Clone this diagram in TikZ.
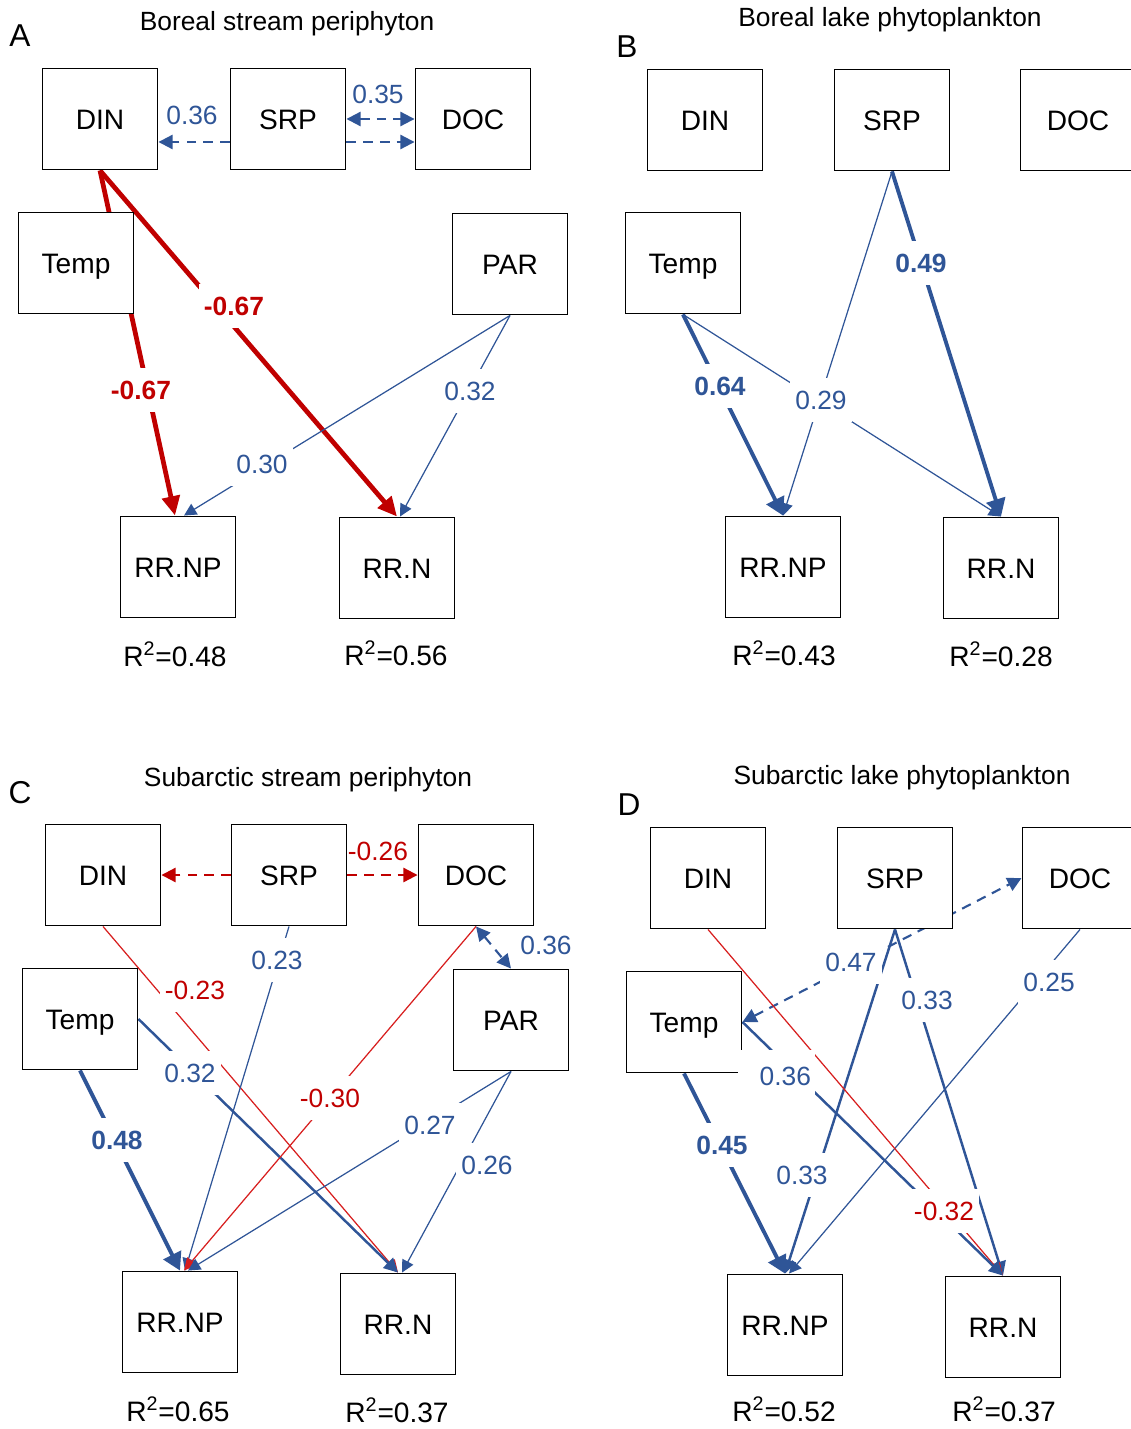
\documentclass[tikz,border=0pt]{standalone}
\usepackage{fontspec}
\setmainfont{Liberation Sans}
\usetikzlibrary{arrows.meta,calc}
\definecolor{sblue}{RGB}{47,85,151}
\definecolor{sred}{RGB}{192,0,0}
\definecolor{tred}{RGB}{215,30,30}
\pgfdeclarelayer{bg}
\pgfsetlayers{bg,main}
\begin{document}
\begin{tikzpicture}[x=0.02cm,y=-0.02cm,
  bx/.style={draw,line width=1.1pt,fill=white,minimum width=2.3cm,minimum height=2.02cm,inner sep=0pt,text height=11.5pt,text depth=0pt,font=\fontsize{16}{19}\selectfont},
  ttl/.style={text height=10.8pt,text depth=0pt,font=\fontsize{15}{18}\selectfont},
  pnl/.style={text height=12.9pt,text depth=0pt,font=\fontsize{18}{21}\selectfont},
  rsq/.style={text height=11.5pt,text depth=0pt,font=\fontsize{16}{19}\selectfont},
  lbl/.style={fill=white,inner xsep=3pt,inner ysep=7pt,text height=10.8pt,text depth=0pt,font=\fontsize{15}{18}\selectfont},
  lb/.style={lbl,text=sblue},
  lbb/.style={lbl,text=sblue,font=\fontsize{15}{18}\selectfont\bfseries},
  lr/.style={lbl,text=sred},
  lrb/.style={lbl,text=sred,font=\fontsize{15}{18}\selectfont\bfseries},
  thkr/.style={draw=sred,line width=2.7pt,>={Triangle[length=11pt,width=10pt]},->},
  thkb/.style={draw=sblue,line width=2.2pt,>={Triangle[length=10pt,width=11pt]},->},
  medb/.style={draw=sblue,line width=1.4pt,>={Triangle[length=8pt,width=8pt]},->},
  thnb/.style={draw=sblue,line width=0.7pt,>={Triangle[length=7pt,width=7pt]},->},
  thnr/.style={draw=tred,line width=0.7pt,>={Triangle[length=7pt,width=7pt]},->},
  dshb/.style={draw=sblue,line width=1.2pt,dash pattern=on 5.5pt off 4pt,>={Triangle[length=8pt,width=8pt]}},
  dshr/.style={draw=sred,line width=1.2pt,dash pattern=on 5.5pt off 4pt,>={Triangle[length=8pt,width=8pt]}}
]
\useasboundingbox (0,0) rectangle (1131,1429);

% ---------------- Panel A ----------------
\node[pnl] (pA) at (20,35) {A};
\node[ttl] (tA) at (287,21) {Boreal stream periphyton};
\node[bx] (DINa) at (100,119) {DIN};
\node[bx] (SRPa) at (288,119) {SRP};
\node[bx] (DOCa) at (473,119) {DOC};
\node[bx] (Tempa) at (76,263) {Temp};
\node[bx] (PARa) at (510,264) {PAR};
\node[bx] (RRNPa) at (178,567) {RR.NP};
\node[bx] (RRNa) at (397,568) {RR.N};
\node[rsq] (r2a1) at (175,656) {R\textsuperscript{2}=0.48};
\node[rsq] (r2a2) at (396,655) {R\textsuperscript{2}=0.56};
\begin{pgfonlayer}{bg}
\draw[dshb,->] ($(SRPa.west)+(0,23)$) -- ($(DINa.east)+(0,23)$);
\draw[dshb,<->] (SRPa.east) -- (DOCa.west);
\draw[dshb,->] ($(SRPa.east)+(0,23)$) -- ($(DOCa.west)+(0,23)$);
\draw[thkr] (DINa.south) -- ($(RRNPa.north)+(-3,0)$);
\draw[thkr] (DINa.south) -- (RRNa.north);
\draw[thnb] (PARa.south) -- ($(RRNPa.north)+(6,0)$);
\draw[thnb] (PARa.south) -- ($(RRNa.north)+(3,0)$);
\end{pgfonlayer}
\node[lb,fill=none] (a036) at (192,115) {0.36};
\node[lb,fill=none] (a035) at (378,94) {0.35};
\node[lrb] (a067b) at (234,306) {-0.67};
\node[lrb] (a067a) at (141,390) {-0.67};
\node[lb] (a032) at (470,391) {0.32};
\node[lb] (a030) at (262,464) {0.30};

% ---------------- Panel B ----------------
\node[pnl] (pB) at (627,46) {B};
\node[ttl] (tB) at (890,17) {Boreal lake phytoplankton};
\node[bx] (DINb) at (705,120) {DIN};
\node[bx] (SRPb) at (892,120) {SRP};
\node[bx] (DOCb) at (1078,120) {DOC};
\node[bx] (Tempb) at (683,263) {Temp};
\node[bx] (RRNPb) at (783,567) {RR.NP};
\node[bx] (RRNb) at (1001,568) {RR.N};
\node[rsq] (r2b1) at (784,655) {R\textsuperscript{2}=0.43};
\node[rsq] (r2b2) at (1001,656) {R\textsuperscript{2}=0.28};
\begin{pgfonlayer}{bg}
\draw[thkb] (Tempb.south) -- (RRNPb.north);
\draw[thnb] (Tempb.south) -- (RRNb.north);
\draw[thnb] (SRPb.south) -- (RRNPb.north);
\draw[thkb] (SRPb.south) -- (RRNb.north);
\end{pgfonlayer}
\node[lbb] (b064) at (720,386) {0.64};
\node[lb] (b029) at (821,400) {0.29};
\node[lbb] (b049) at (921,263) {0.49};

% ---------------- Panel C ----------------
\node[pnl] (pC) at (20,792) {C};
\node[ttl] (tC) at (308,777) {Subarctic stream periphyton};
\node[bx] (DINc) at (103,875) {DIN};
\node[bx] (SRPc) at (289,875) {SRP};
\node[bx] (DOCc) at (476,875) {DOC};
\node[bx] (Tempc) at (80,1019) {Temp};
\node[bx] (PARc) at (511,1020) {PAR};
\node[bx] (RRNPc) at (180,1322) {RR.NP};
\node[bx] (RRNc) at (398,1324) {RR.N};
\node[rsq] (r2c1) at (178,1411) {R\textsuperscript{2}=0.65};
\node[rsq] (r2c2) at (397,1412) {R\textsuperscript{2}=0.37};
\begin{pgfonlayer}{bg}
\draw[dshr,->] (SRPc.west) -- (DINc.east);
\draw[dshr,->] (SRPc.east) -- (DOCc.west);
\draw[dshb,<->] (DOCc.south) -- (PARc.north);
\draw[thnr] (DINc.south) -- (RRNc.north);
\draw[thnb] (SRPc.south) -- ($(RRNPc.north)+(5,0)$);
\draw[medb] (Tempc.east) -- (RRNc.north);
\draw[thkb] (Tempc.south) -- (RRNPc.north);
\draw[thnr] (DOCc.south) -- ($(RRNPc.north)+(4,0)$);
\draw[thnb] (PARc.south) -- ($(RRNPc.north)+(8,0)$);
\draw[thnb] (PARc.south) -- ($(RRNc.north)+(4,0)$);
\end{pgfonlayer}
\node[lr,fill=none] (c026) at (378,851) {-0.26};
\node[lb,fill=none] (c036) at (546,945) {0.36};
\node[lr] (c023r) at (195,990) {-0.23};
\node[lb] (c023) at (277,960) {0.23};
\node[lb] (c032) at (190,1073) {0.32};
\node[lbb] (c048) at (117,1140) {0.48};
\node[lr] (c030) at (330,1098) {-0.30};
\node[lb] (c027) at (430,1125) {0.27};
\node[lb] (c026b) at (487,1165) {0.26};

% ---------------- Panel D ----------------
\node[pnl] (pD) at (629,804) {D};
\node[ttl] (tD) at (902,775) {Subarctic lake phytoplankton};
\node[bx] (DINd) at (708,878) {DIN};
\node[bx] (SRPd) at (895,878) {SRP};
\node[bx] (DOCd) at (1080,878) {DOC};
\node[bx] (Tempd) at (684,1022) {Temp};
\node[bx] (RRNPd) at (785,1325) {RR.NP};
\node[bx] (RRNd) at (1003,1327) {RR.N};
\node[rsq] (r2d1) at (784,1411) {R\textsuperscript{2}=0.52};
\node[rsq] (r2d2) at (1004,1411) {R\textsuperscript{2}=0.37};
\begin{pgfonlayer}{bg}
\draw[dshb,<->] (Tempd.east) -- (DOCd.west);
\draw[thkb] (Tempd.south) -- (RRNPd.north);
\draw[medb] (SRPd.south) -- (RRNPd.north);
\draw[medb] (SRPd.south) -- (RRNd.north);
\draw[thnb] (DOCd.south) -- ($(RRNPd.north)+(4,0)$);
\draw[thnr] (DINd.south) -- (RRNd.north);
\draw[medb] (Tempd.east) -- (RRNd.north);
\end{pgfonlayer}
\node[lb] (d047) at (851,962) {0.47};
\node[lbb] (d045) at (722,1145) {0.45};
\node[lb] (d033a) at (802,1175) {0.33};
\node[lb] (d033b) at (927,1000) {0.33};
\node[lb] (d025) at (1049,982) {0.25};
\node[lr] (d032) at (944,1211) {-0.32};
\node[lb,inner xsep=2pt,text width=1.4cm,align=right,minimum height=1.04cm] (d036) at (776,1076) {0.36};
\end{tikzpicture}
\end{document}
